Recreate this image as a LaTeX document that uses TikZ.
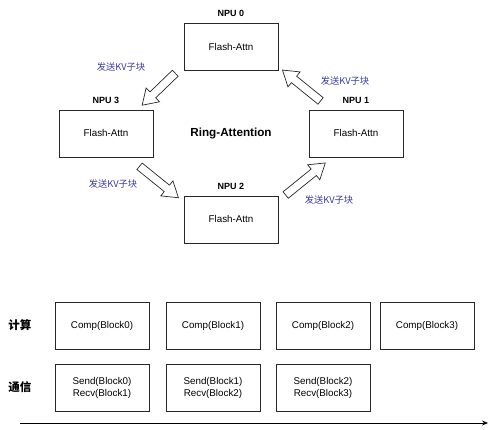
\documentclass[tikz,border=0pt]{standalone}
\usepackage{fontspec}
\setmainfont{Liberation Sans}
\newfontfamily\cjk{Noto Sans CJK SC}
\usetikzlibrary{positioning,shapes.arrows,arrows.meta}
\definecolor{sendblue}{RGB}{58,58,168}
\definecolor{boxline}{RGB}{40,40,40}

\begin{document}
\begin{tikzpicture}[x=1pt,y=-1pt,
        npu/.style={draw=boxline, line width=0.8pt, minimum width=94pt, minimum height=47pt,
            font=\fontsize{9.8}{12}\selectfont, align=center},
        npuname/.style={font=\bfseries\fontsize{9}{11}\selectfont},
        kvsend/.style={single arrow, draw=boxline, line width=0.7pt, fill=white,
            inner sep=3.8pt, single arrow head extend=5.5pt, single arrow tip angle=66},
        kvlabel/.style={text=sendblue, font=\cjk\fontsize{9.3}{11}\selectfont},
        rowname/.style={font=\cjk\bfseries\fontsize{11.5}{13}\selectfont}]
    \useasboundingbox (0,0) rectangle (496,430);

    % ring of NPUs
    \node [npu] (npu0) at (231,47) {Flash-Attn};
    \node [npu] (npu1) at (356,133.5) {Flash-Attn};
    \node [npu] (npu2) at (231,219.5) {Flash-Attn};
    \node [npu] (npu3) at (106,133.5) {Flash-Attn};
    \node [npuname, above=2.5pt of npu0] (name0) {NPU 0};
    \node [npuname, above=2.5pt of npu1] (name1) {NPU 1};
    \node [npuname, above=2.5pt of npu2] (name2) {NPU 2};
    \node [npuname, above=2.5pt of npu3] (name3) {NPU 3};
    \node [font=\bfseries\fontsize{11.7}{14}\selectfont] (ring) at (231,134) {Ring-Attention};

    % KV blocks passed round the ring
    \node [kvsend, minimum height=46pt, rotate=224] (send03) at (161,87) {};
    \node [kvsend, minimum height=49pt, rotate=141] (send10) at (304,87.5) {};
    \node [kvsend, minimum height=50pt, rotate=-39] (send32) at (156.5,180) {};
    \node [kvsend, minimum height=51pt, rotate=39] (send21) at (303,181) {};
    \node [kvlabel] (lab03) at (121,67) {发送KV子块};
    \node [kvlabel] (lab10) at (345,81) {发送KV子块};
    \node [kvlabel] (lab32) at (113,184) {发送KV子块};
    \node [kvlabel] (lab21) at (329,200) {发送KV子块};

    % timeline
    \node [rowname] (comp) at (20,325.5) {计算};
    \node [rowname] (comm) at (20,387.5) {通信};
    \node [npu] (comp0) at (102,325.5) {Comp(Block0)};
    \node [npu] (comp1) at (213,325.5) {Comp(Block1)};
    \node [npu] (comp2) at (323,325.5) {Comp(Block2)};
    \node [npu] (comp3) at (427,325.5) {Comp(Block3)};
    \node [npu] (comm0) at (102,387.5) {Send(Block0)\\Recv(Block1)};
    \node [npu] (comm1) at (213,387.5) {Send(Block1)\\Recv(Block2)};
    \node [npu] (comm2) at (323,387.5) {Send(Block2)\\Recv(Block3)};
    \coordinate (tstart) at (20,423);
    \coordinate (tend) at (488,423);
    \draw [-{Stealth[length=6pt,width=5pt]}, line width=0.8pt] (tstart) -- (tend);
\end{tikzpicture}
\end{document}
